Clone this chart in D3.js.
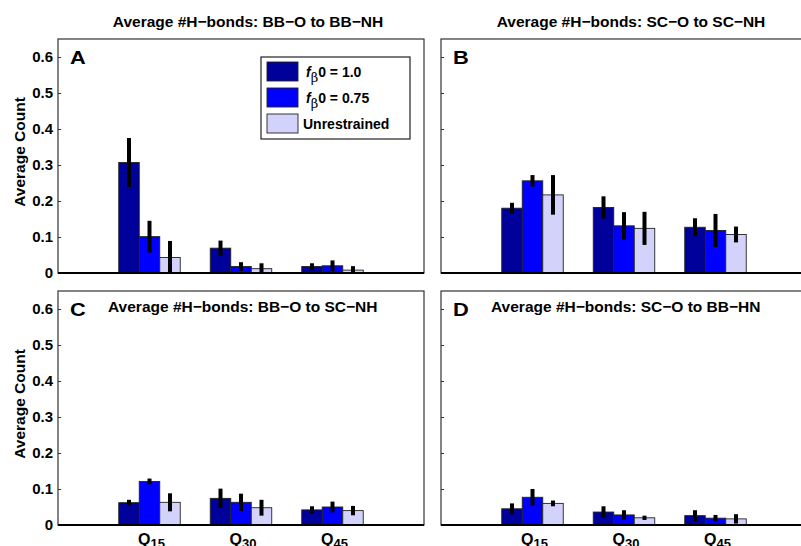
<!DOCTYPE html>
<html>
<head>
<meta charset="utf-8">
<script src="https://cdn.jsdelivr.net/npm/d3@7"></script>
<style>
  body { margin: 0; background: #fff; }
  svg { display: block; font-family: "Liberation Sans", Arial, sans-serif; font-weight: bold; }
</style>
</head>
<body>
<svg width="801" height="546"></svg>
<script>
let width = 801;
let height = 546;

// groups on the x axis
let groups = ['15', '30', '45'];
let seriesNames = ['1.0', '0.75', 'Unrestrained'];
let colors = ['#00009b', '#0000ff', '#d2d2fa'];
let yTicks = [0, 0.1, 0.2, 0.3, 0.4, 0.5, 0.6];

// means per panel: rows = groups, cols = series
let meanA = [[0.307, 0.101, 0.043], [0.069, 0.018, 0.012], [0.018, 0.020, 0.008]];
let errA  = [[0.068, 0.044, 0.046], [0.021, 0.012, 0.015], [0.009, 0.015, 0.011]];
let meanB = [[0.180, 0.256, 0.217], [0.182, 0.131, 0.124], [0.127, 0.118, 0.107]];
let errB  = [[0.015, 0.016, 0.055], [0.031, 0.038, 0.046], [0.025, 0.046, 0.022]];
let meanC = [[0.062, 0.121, 0.063], [0.074, 0.063, 0.048], [0.042, 0.050, 0.040]];
let errC  = [[0.008, 0.008, 0.025], [0.027, 0.024, 0.022], [0.010, 0.015, 0.013]];
let meanD = [[0.045, 0.077, 0.060], [0.036, 0.028, 0.020], [0.026, 0.019, 0.017]];
let errD  = [[0.015, 0.023, 0.008], [0.016, 0.013, 0.006], [0.015, 0.009, 0.013]];

let panels = [
  { letter: 'A', title: 'Average #H\u2212bonds: BB\u2212O to BB\u2212NH', mean: meanA, err: errA, x: 58, y: 39, inside: false, labels: true, legend: true },
  { letter: 'B', title: 'Average #H\u2212bonds: SC\u2212O to SC\u2212NH', mean: meanB, err: errB, x: 441, y: 39, inside: false, labels: false },
  { letter: 'C', title: 'Average #H\u2212bonds: BB\u2212O to SC\u2212NH', mean: meanC, err: errC, x: 58, y: 291, inside: true, labels: true, xlabels: true },
  { letter: 'D', title: 'Average #H\u2212bonds: SC\u2212O to BB\u2212HN', mean: meanD, err: errD, x: 441, y: 291, inside: true, labels: false, xlabels: true }
];

let pw = 366;
let ph = 234;

let svg = d3.select('svg');

panels.forEach(p => {
  let g = svg.append('g').attr('transform', `translate(${p.x},${p.y})`);

  let xScale = d3.scaleLinear().domain([0, 4]).range([0, pw]);
  let yScale = d3.scaleLinear().domain([0, 0.65]).range([ph, 0]);
  let inner = d3.scaleBand().domain(d3.range(3)).range([-0.336, 0.336]);

  // frame
  g.append('rect')
    .attr('width', pw).attr('height', ph)
    .attr('fill', 'none').attr('stroke', '#333').attr('stroke-width', 1.2);

  // y axis
  let yAxis = d3.axisLeft(yScale).tickValues(yTicks).tickSize(-3).tickPadding(5)
    .tickFormat(p.labels ? (d => d === 0 ? '0' : d3.format('.1f')(d)) : '');
  let ya = g.append('g').call(yAxis);
  ya.select('.domain').remove();
  ya.selectAll('line').attr('stroke', '#333');
  ya.selectAll('text').attr('font-size', 15).attr('font-weight', 'bold').attr('fill', '#000')
    .attr('font-family', '"Liberation Sans", Arial, sans-serif');

  // bars
  p.mean.forEach((row, gi) => {
    row.forEach((v, si) => {
      let x0 = xScale(gi + 1 + inner(si));
      let x1 = xScale(gi + 1 + inner(si) + inner.bandwidth());
      g.append('rect')
        .attr('x', x0).attr('y', yScale(v))
        .attr('width', x1 - x0).attr('height', yScale(0) - yScale(v))
        .attr('fill', colors[si]).attr('stroke', '#222').attr('stroke-width', 0.9);
      let e = p.err[gi][si];
      let cx = (x0 + x1) / 2;
      g.append('line')
        .attr('x1', cx).attr('x2', cx)
        .attr('y1', yScale(v + e)).attr('y2', Math.min(yScale(v - e), ph + 1))
        .attr('stroke', '#000').attr('stroke-width', 4);
    });
  });

  // base line
  g.append('line').attr('x1', 0).attr('x2', pw).attr('y1', ph).attr('y2', ph)
    .attr('stroke', '#000').attr('stroke-width', 2);

  // panel letter (slightly wide in the original)
  g.append('text').attr('transform', 'translate(12,25) scale(1.18,1)')
    .attr('font-size', 18.5).text(p.letter);

  // title
  if (p.inside) {
    g.append('text').attr('x', 50).attr('y', 21).attr('font-size', 15.5).text(p.title);
  } else {
    g.append('text').attr('x', pw / 2 + 7).attr('y', -12).attr('text-anchor', 'middle')
      .attr('font-size', 15.5).text(p.title);
  }

  // y label
  if (p.labels) {
    g.append('text')
      .attr('transform', `translate(${-33},${ph / 2 - 4}) rotate(-90)`)
      .attr('text-anchor', 'middle').attr('font-size', 15.5).text('Average Count');
  }

  // x labels (cut by the bottom edge, as in the original)
  if (p.xlabels) {
    groups.forEach((q, gi) => {
      let t = g.append('text').attr('x', xScale(gi + 1) + 2).attr('y', ph + 20)
        .attr('text-anchor', 'middle').attr('font-size', 16);
      t.append('tspan').text('Q');
      t.append('tspan').attr('dy', 3).attr('font-size', 13).text(q);
    });
  }

  // legend
  if (p.legend) {
    let lg = g.append('g').attr('transform', `translate(${203},${18})`);
    lg.append('rect').attr('width', 149).attr('height', 82)
      .attr('fill', '#fff').attr('stroke', '#222').attr('stroke-width', 1.2);
    seriesNames.forEach((s, si) => {
      let yy = 5 + si * 26;
      lg.append('rect').attr('x', 6).attr('y', yy).attr('width', 31).attr('height', 19)
        .attr('fill', colors[si]).attr('stroke', '#222').attr('stroke-width', 0.9);
      let t = lg.append('text').attr('x', si < 2 ? 45 : 42).attr('y', yy + 15).attr('font-size', 14);
      if (si < 2) {
        t.append('tspan').attr('font-style', 'italic').text('f');
        t.append('tspan').attr('dy', 5).attr('font-size', 13).attr('font-weight', 'normal')
          .attr('font-family', '"DejaVu Serif", serif').text('\u03B2');
        t.append('tspan').attr('dy', -5).text('0 = ' + s);
      } else {
        t.text(s);
      }
    });
  }
});
</script>
</body>
</html>
